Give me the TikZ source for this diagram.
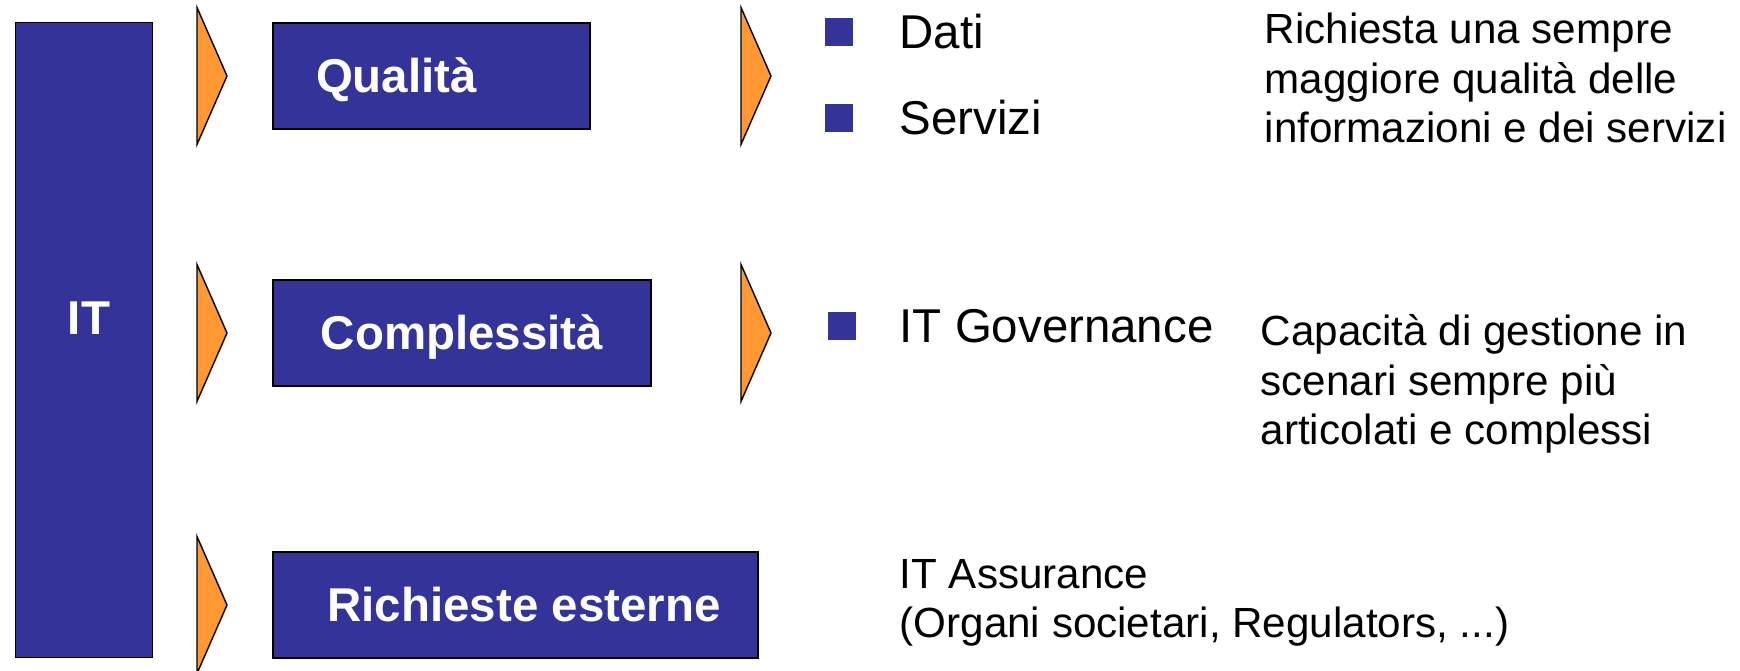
\documentclass[tikz,border=0pt]{standalone}
\usepackage{fontspec}
\setmainfont{Liberation Sans}
\usetikzlibrary{positioning}
\definecolor{blu}{RGB}{51,51,153}
\definecolor{arancio}{RGB}{255,153,51}

\tikzset{
  blocco/.style={draw=black, fill=blu, text=white, font=\fontsize{13.5}{16}\selectfont\bfseries,
    minimum height=1.06cm, inner sep=0pt, text height=0.34cm, text depth=0pt},
  freccia/.style={draw=black, fill=arancio, line join=miter},
  punto/.style={fill=blu, minimum size=0.28cm, inner sep=0pt},
  testo/.style={font=\fontsize{12}{14.1}\selectfont, align=left, anchor=base west, inner sep=0pt},
  voce/.style={testo, font=\fontsize{13.5}{16}\selectfont},
}

\begin{document}
\begin{tikzpicture}
    \useasboundingbox (0,0) rectangle (17.40,6.71);

    % colonna IT
    \node[blocco, minimum width=1.37cm, minimum height=6.35cm, anchor=south west] (it) at (0.15,0.13) {};
    \node[text=white, font=\fontsize{13.5}{16}\selectfont\bfseries, anchor=base, inner sep=0pt] (itlabel) at (0.89,3.36) {IT};

    % frecce
    \foreach \y in {5.95,3.38,0.66}
        \draw[freccia] (1.97,\y+0.685) -- (2.27,\y) -- (1.97,\y-0.685) -- cycle;
    \foreach \y in {5.95,3.38}
        \draw[freccia] (7.41,\y+0.685) -- (7.71,\y) -- (7.41,\y-0.685) -- cycle;

    % blocchi
    \node[blocco, minimum width=3.17cm, text width=2.31cm, inner xsep=0.43cm, align=left] (qualita) at (4.315,5.95) {Qualità};
    \node[blocco, minimum width=3.78cm] (compl) at (4.62,3.38) {Complessità};
    \node[blocco, minimum width=4.85cm] (rich) at (5.155,0.66) {\hspace*{0.17cm}Richieste esterne};

    % elenchi
    \node[punto] (p1) at (8.39,6.39) {};
    \node[punto] (p2) at (8.39,5.53) {};
    \node[punto] (p3) at (8.42,3.45) {};
    \node[voce] (dati) at (8.99,6.22) {Dati};
    \node[voce] (servizi) at (8.99,5.36) {Servizi};
    \node[voce] (gov) at (8.99,3.28) {IT Governance};
    \node[testo] (assur) at (8.99,0.33) {IT Assurance\\(Organi societari, Regulators, ...)};

    % note
    \node[testo] (nota1) at (12.64,5.28) {Richiesta una sempre\\maggiore qualità delle\\informazioni e dei servizi};
    \node[testo] (nota2) at (12.60,2.26) {Capacità di gestione in\\scenari sempre più\\articolati e complessi};

\end{tikzpicture}
\end{document}
